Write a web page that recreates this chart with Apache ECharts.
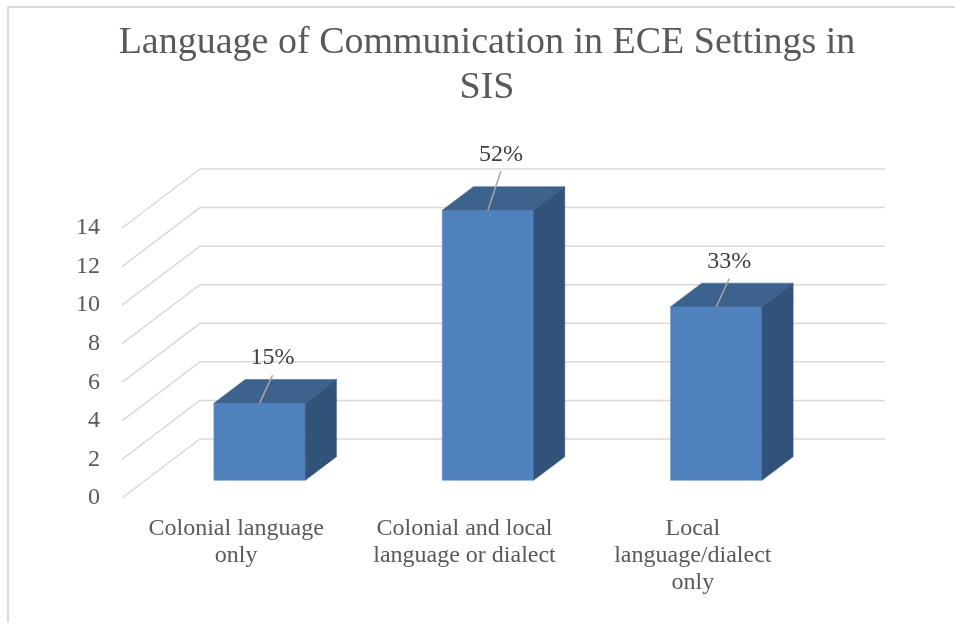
<!DOCTYPE html>
<html>
<head>
<meta charset="utf-8">
<script src="https://cdn.jsdelivr.net/npm/echarts@6/dist/echarts.min.js"></script>
<style>html,body{margin:0;padding:0;background:#fff;}#c{width:955px;height:623px;}</style>
</head>
<body>
<div id="c"></div>
<script>
var titleText = 'Language of Communication in ECE Settings in\nSIS';
var categories = ['Colonial language\nonly', 'Colonial and local\nlanguage or dialect', 'Local\nlanguage/dialect\nonly'];
var values = [4, 14, 9];
var yTicks = [0, 2, 4, 6, 8, 10, 12, 14];

// layout constants (not data)
var DEPTH_X = 78, DEPTH_Y = -59;
var BAR_D0 = 0.3, BAR_D1 = 0.7, BAR_W = 0.4;
var labelRaise = [0, 11, 0];
var FONT = '"Liberation Serif", "DejaVu Serif", serif';
var TXT = '#595959';

var total = values.reduce(function (a, b) { return a + b; }, 0);

var chart = echarts.init(document.getElementById('c'));
chart.setOption({
  animation: false,
  backgroundColor: '#fff',
  graphic: [
    { type: 'rect', shape: { x: 8, y: 7, width: 1000, height: 700 }, style: { fill: 'none', stroke: '#D9D9D9', lineWidth: 2 }, z: -10 },
    { type: 'text', x: 487, y: 21, style: { text: titleText, font: '38px ' + FONT, fill: TXT, textAlign: 'center', textVerticalAlign: 'top', lineHeight: 45 } }
  ],
  grid: { left: 122, right: 148, top: 228, bottom: 125, containLabel: false },
  xAxis: {
    type: 'category', data: categories,
    axisLine: { show: false }, axisTick: { show: false }, splitLine: { show: false },
    axisLabel: { interval: 0, color: TXT, fontSize: 24, fontFamily: FONT, lineHeight: 27, margin: 17 }
  },
  yAxis: {
    type: 'value', min: 0, max: 14, interval: 2,
    axisLine: { show: false }, axisTick: { show: false }, splitLine: { show: false },
    axisLabel: { color: TXT, fontSize: 24, fontFamily: FONT, margin: 22 }
  },
  series: [
    {
      type: 'custom', silent: true, z: 1,
      data: yTicks.map(function (v) { return [0, v]; }),
      encode: { x: 0, y: 1 },
      renderItem: function (params, api) {
        var cs = params.coordSys;
        var y = api.coord([0, api.value(1)])[1];
        var x0 = cs.x, x1 = cs.x + cs.width;
        return {
          type: 'polyline',
          shape: { points: [[x0, y], [x0 + DEPTH_X, y + DEPTH_Y], [x1 + DEPTH_X, y + DEPTH_Y]] },
          style: { stroke: '#D9D9D9', lineWidth: 1.5, fill: 'none' }
        };
      }
    },
    {
      type: 'custom', silent: true, z: 5,
      data: values.map(function (v, i) { return [i, v]; }),
      encode: { x: 0, y: 1 },
      renderItem: function (params, api) {
        var i = api.value(0), v = api.value(1);
        var top = api.coord([i, v]);
        var base = api.coord([i, 0]);
        var w = api.size([1, 0])[0] * BAR_W;
        var ox = DEPTH_X * BAR_D0, oy = DEPTH_Y * BAR_D0;
        var dx = DEPTH_X * (BAR_D1 - BAR_D0), dy = DEPTH_Y * (BAR_D1 - BAR_D0);
        var xl = top[0] - w / 2 + ox, xr = xl + w;
        var yt = top[1] + oy, yb = base[1] + oy;
        var cx = xl + w / 2;
        var pct = Math.round(v / total * 100) + '%';
        var r = labelRaise[i] || 0;
        return {
          type: 'group',
          children: [
            { type: 'rect', shape: { x: xl, y: yt, width: w, height: yb - yt }, style: { fill: '#4F81BD', stroke: '#6E95C8', lineWidth: 0.6 } },
            { type: 'polygon', shape: { points: [[xl, yt], [xr, yt], [xr + dx, yt + dy], [xl + dx, yt + dy]] }, style: { fill: '#3C628E', stroke: '#3C628E', lineWidth: 0.5 } },
            { type: 'polygon', shape: { points: [[xr, yt], [xr + dx, yt + dy], [xr + dx, yb + dy], [xr, yb]] }, style: { fill: '#32527A', stroke: '#32527A', lineWidth: 0.5 } },
            { type: 'line', shape: { x1: cx, y1: yt, x2: cx + 13, y2: yt - 28 - r }, style: { stroke: '#A6A6A6', lineWidth: 1.5 } },
            { type: 'text', x: cx + 13, y: yt - 45 - r, style: { text: pct, font: '24px ' + FONT, fill: '#404040', textAlign: 'center', textVerticalAlign: 'middle' } }
          ]
        };
      }
    }
  ]
});
</script>
</body>
</html>
